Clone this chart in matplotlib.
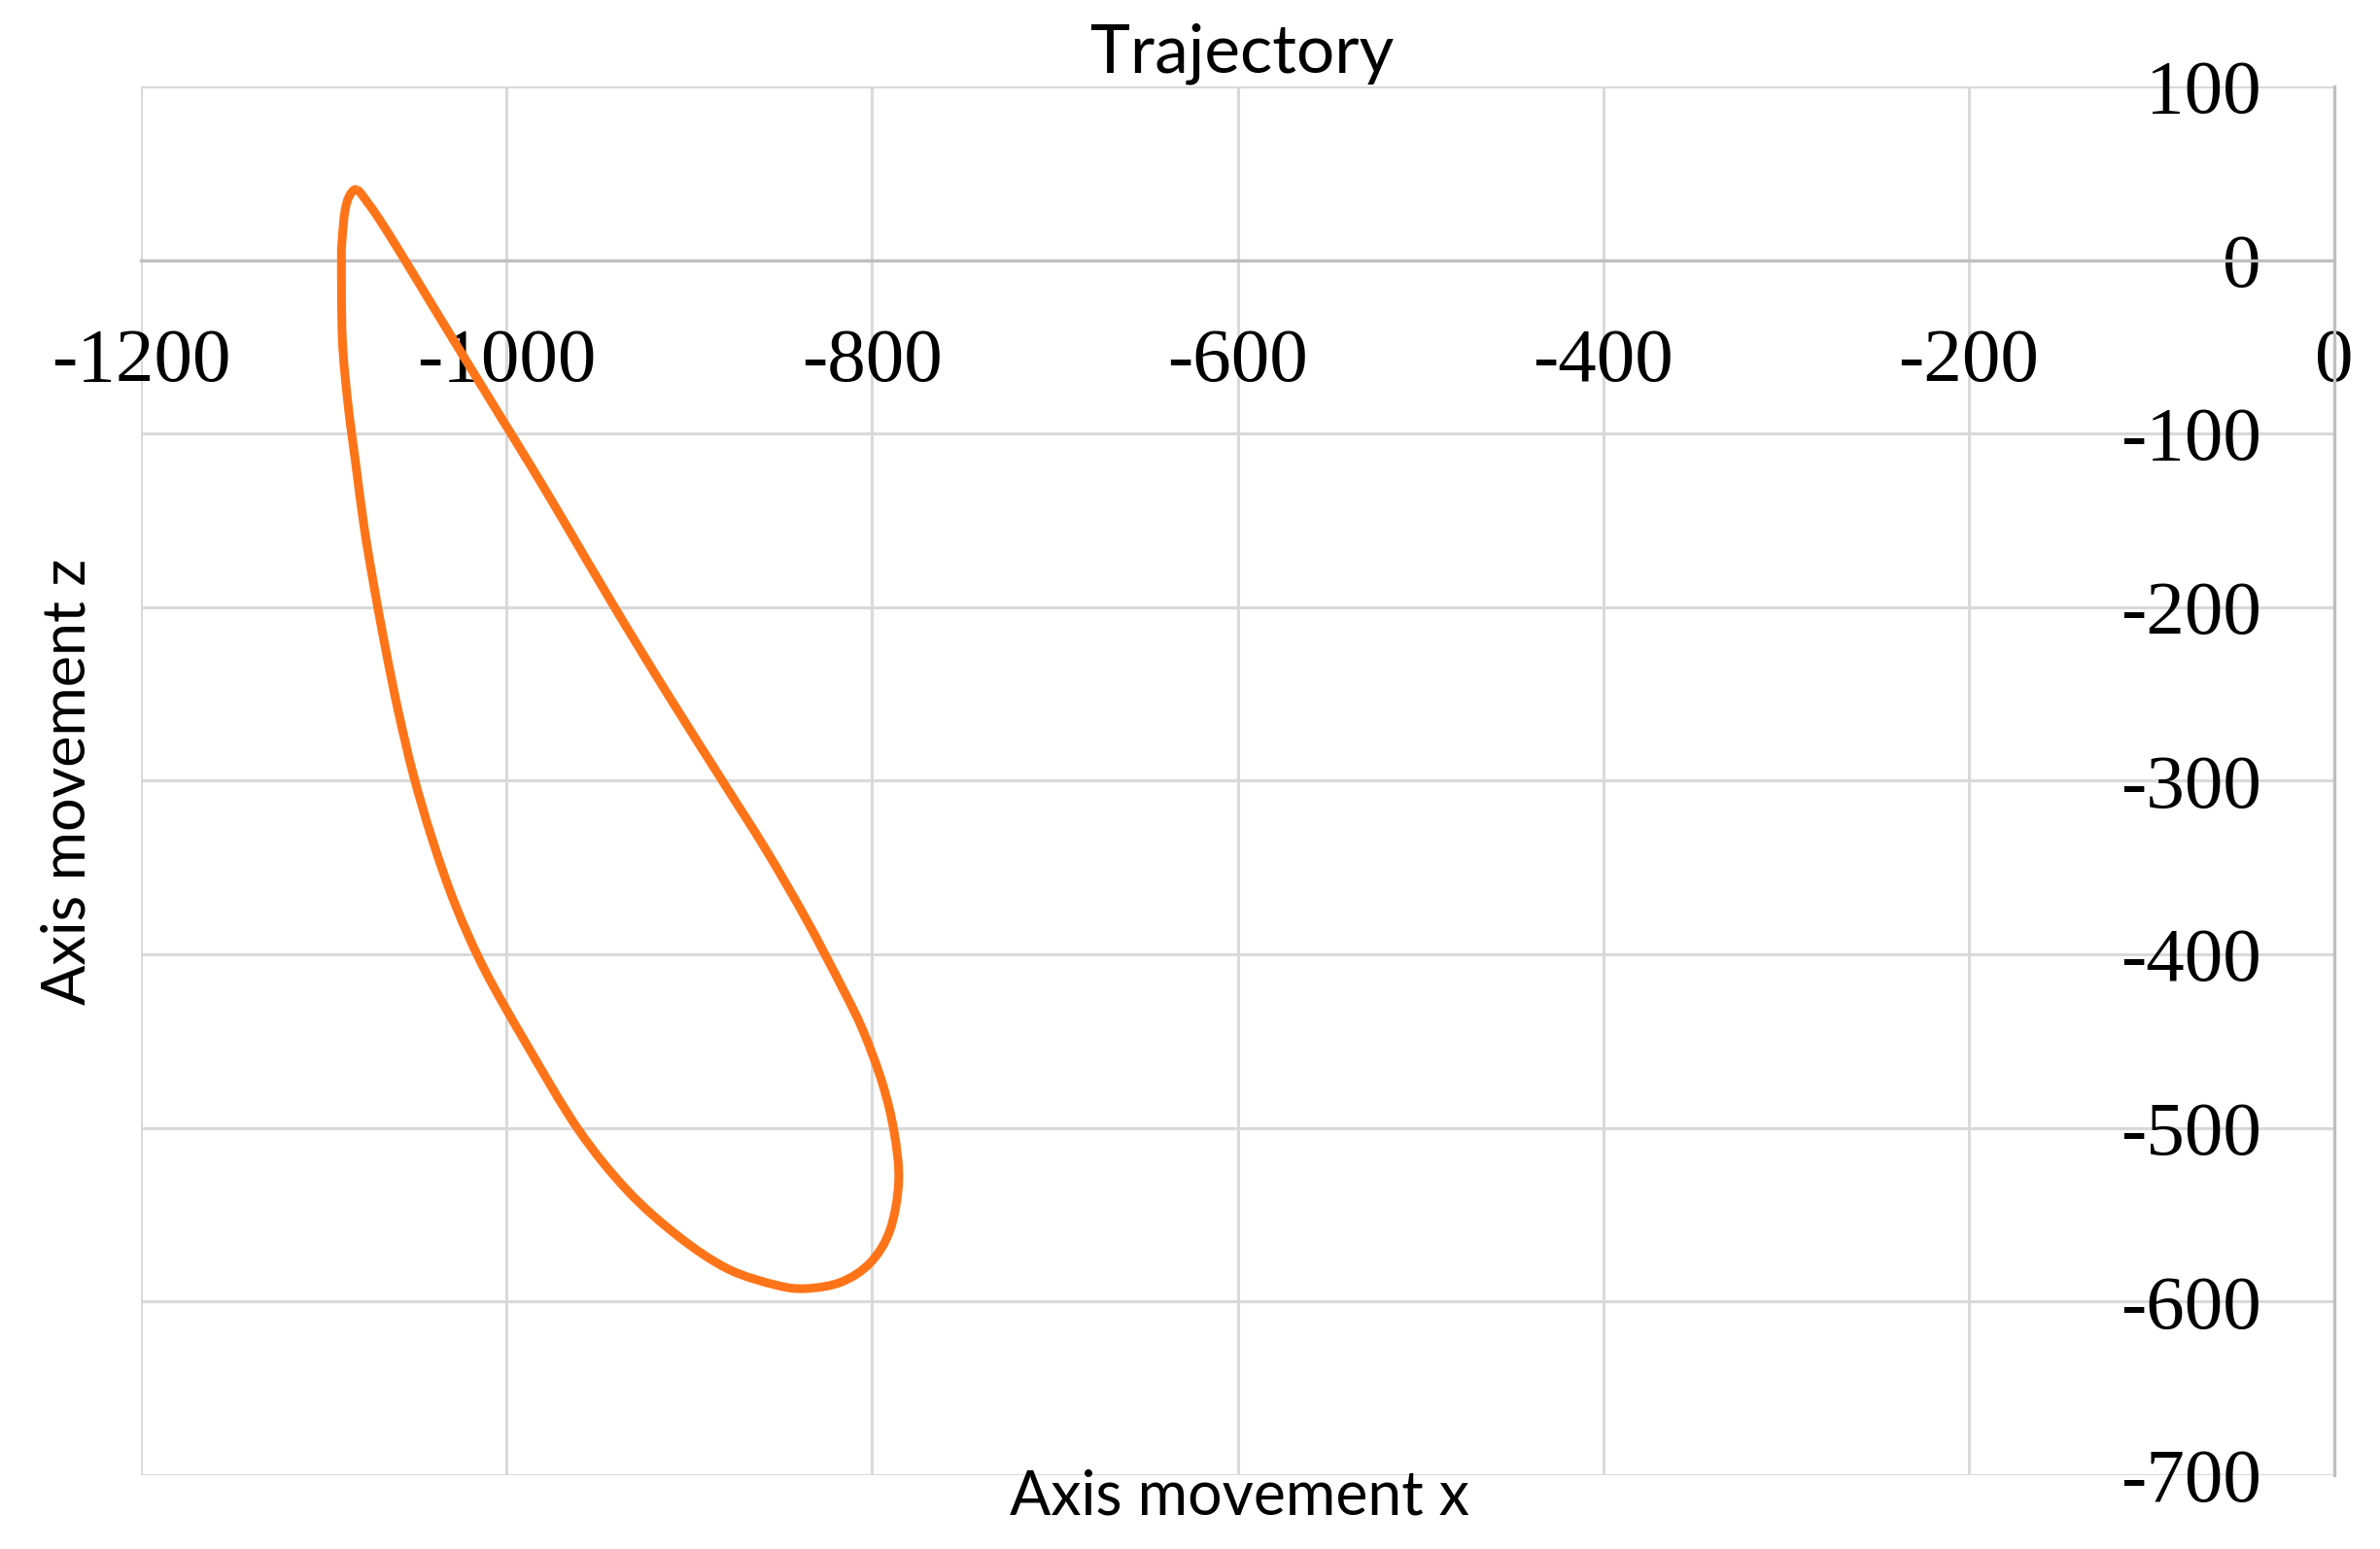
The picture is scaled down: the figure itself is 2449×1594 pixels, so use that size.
import numpy as np
import matplotlib
matplotlib.use("Agg")
import matplotlib.pyplot as plt
from matplotlib.path import Path
from matplotlib.patches import PathPatch

plt.rcParams["axes.unicode_minus"] = False

# trajectory (x, z), one closed loop starting at the top
x_pts = [-1082, -1086, -1088.5, -1090, -1090.4, -1089.9, -1086.9, -1082.4, -1078,
         -1073, -1066.5, -1059.3, -1050.9, -1040.5, -1028, -1012, -989, -961,
         -934, -906, -879, -852.3, -836, -816.8, -800.9, -790.2, -785.5,
         -788, -794.5, -805, -816, -836, -858, -882, -912, -941,
         -969, -986, -1003.5, -1021, -1039, -1057, -1069, -1076]
z_pts = [40.5, 37, 28, 12, 0, -45.5, -82.2, -118.9, -153.8,
         -185.5, -222.7, -260, -297.2, -334.4, -371.7, -409, -452, -500.6,
         -536, -562.5, -581.2, -590.6, -592.5, -588.7, -577.5, -558.7, -530.6,
         -502.4, -474, -444, -420, -380, -340, -300, -250, -200,
         -150, -120, -90, -60, -29, 2.2, 22.4, 33]

x_ticks = [-1200, -1000, -800, -600, -400, -200, 0]
z_ticks = [100, 0, -100, -200, -300, -400, -500, -600, -700]

title = "Trajectory"
x_label = "Axis movement x"
z_label = "Axis movement z"

LINE = "#ff7418"
GRID = "#d9d9d9"
AXIS = "#bfbfbf"


def smooth_loop(xs, ys):
    # excel-like smoothed line: cubic bezier segments through every point
    p = np.column_stack([xs, ys]).astype(float)
    n = len(p)
    verts = [p[0]]
    codes = [Path.MOVETO]
    for i in range(n):
        p0, p1 = p[i - 1], p[i]
        p2, p3 = p[(i + 1) % n], p[(i + 2) % n]
        verts += [p1 + (p2 - p0) / 6, p2 - (p3 - p1) / 6, p2]
        codes += [Path.CURVE4] * 3
    return Path(verts, codes)


fig = plt.figure(figsize=(24.49, 15.94), dpi=100)
ax = fig.add_axes([0.0593, 0.0477, 0.9215, 0.8965])

patch = PathPatch(smooth_loop(x_pts, z_pts), facecolor="none", edgecolor=LINE,
                  lw=6.5, joinstyle="round", zorder=3)
ax.add_patch(patch)

ax.set_xlim(-1200, 0)
ax.set_ylim(-700, 100)
ax.set_xticks(x_ticks)
ax.set_yticks(z_ticks)
ax.grid(True, color=GRID, lw=2.2)
ax.set_axisbelow(True)

# excel style: axes cross at the origin
ax.spines["left"].set_position(("data", 0))
ax.spines["bottom"].set_position(("data", 0))
ax.spines["top"].set_visible(False)
ax.spines["right"].set_visible(False)
for s in ("left", "bottom"):
    ax.spines[s].set_color(AXIS)
    ax.spines[s].set_linewidth(2.4)

ax.tick_params(length=0, labelsize=57)
ax.tick_params(axis="y", pad=54)
ax.tick_params(axis="x", pad=50)
for lab in ax.get_xticklabels() + ax.get_yticklabels():
    lab.set_fontfamily("Liberation Serif")

fig.text(0.5218, 0.953, title, ha="center", va="baseline", fontsize=50, family="Lato")
fig.text(0.5206, 0.022, x_label, ha="center", va="baseline", fontsize=45, family="Lato")
fig.text(0.0286, 0.4956, z_label, ha="center", va="center", rotation=90, fontsize=44, family="Lato")

fig.savefig("out.png", dpi=100, facecolor="white")
